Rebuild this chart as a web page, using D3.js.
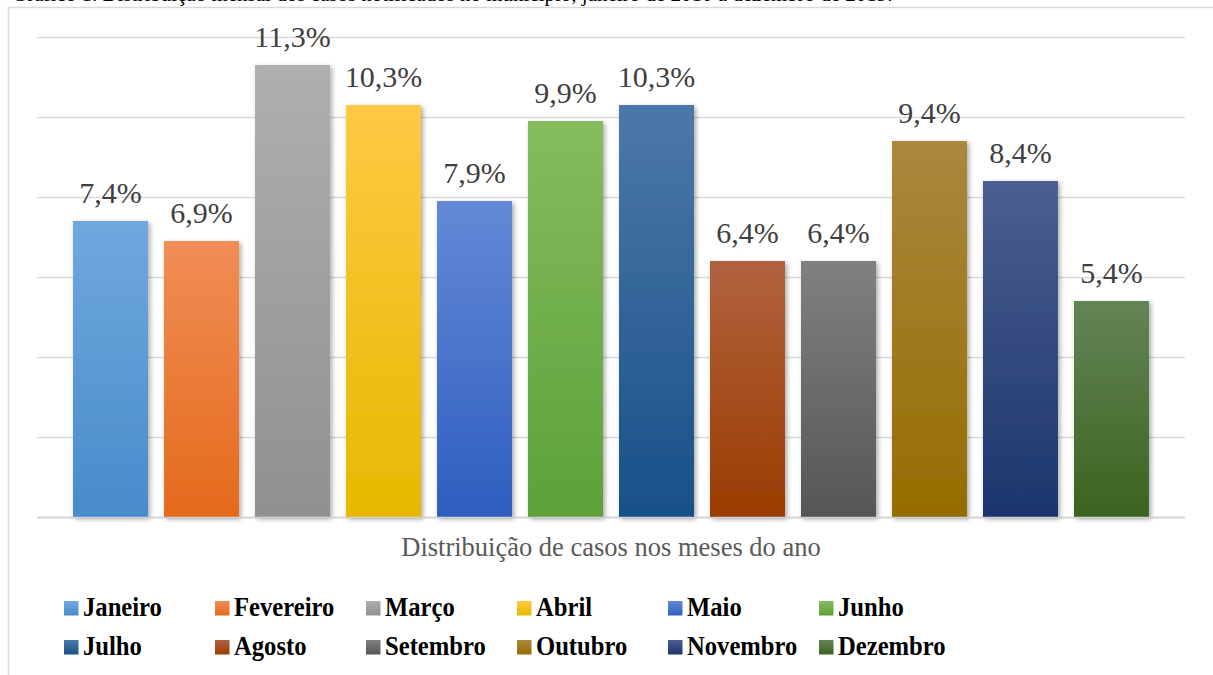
<!DOCTYPE html>
<html>
<head>
<meta charset="utf-8">
<script src="https://cdn.jsdelivr.net/npm/d3@7"></script>
<style>
  html, body { margin: 0; padding: 0; background: #ffffff; overflow: hidden; }
  svg { display: block; }
  .serif { font-family: 'Liberation Serif', 'Times New Roman', serif; }
</style>
</head>
<body>
<svg id="chart" width="1213" height="675"></svg>
<script>
const months = ["Janeiro","Fevereiro","Março","Abril","Maio","Junho","Julho","Agosto","Setembro","Outubro","Novembro","Dezembro"];
const values = [7.4, 6.9, 11.3, 10.3, 7.9, 9.9, 10.3, 6.4, 6.4, 9.4, 8.4, 5.4];
const labels = ["7,4%","6,9%","11,3%","10,3%","7,9%","9,9%","10,3%","6,4%","6,4%","9,4%","8,4%","5,4%"];
const yTicks = [0, 2, 4, 6, 8, 10, 12];
const colorTop = ["#70a8de","#f18d56","#afafaf","#ffc944","#6389d7","#84bc5e","#4c78a9","#b1623f","#808080","#a9883f","#4b5f90","#648455"];
const colorBottom = ["#478bca","#e46a1c","#909090","#e7b800","#2e5ebf","#5da139","#185088","#9a3c00","#565656","#966c00","#1c356d","#3b6320"];
const axisTitle = "Distribuição de casos nos meses do ano";
const captionText = "Gráfico 1. Distribuição mensal dos casos notificados no município, janeiro de 2010 a dezembro de 2019.";

const svg = d3.select("#chart");
const defs = svg.append("defs");

const shadow = defs.append("filter").attr("id", "shadow")
  .attr("x", "-20%").attr("y", "-10%").attr("width", "140%").attr("height", "125%");
shadow.append("feDropShadow").attr("dx", 2).attr("dy", 2)
  .attr("stdDeviation", 2.5).attr("flood-color", "#000").attr("flood-opacity", 0.35);

months.forEach((m, i) => {
  const g = defs.append("linearGradient").attr("id", "grad" + i)
    .attr("x1", 0).attr("y1", 0).attr("x2", 0).attr("y2", 1);
  g.append("stop").attr("offset", "0%").attr("stop-color", colorTop[i]);
  g.append("stop").attr("offset", "100%").attr("stop-color", colorBottom[i]);
});

// caption (clipped at top, as in the reference)
svg.append("text")
  .attr("class", "serif")
  .attr("x", 12).attr("y", 0.5)
  .attr("font-size", 21).attr("fill", "#000")
  .text(captionText);

// frame
svg.append("rect")
  .attr("x", 8.5).attr("y", 7.5).attr("width", 1400).attr("height", 800)
  .attr("fill", "#ffffff").attr("stroke", "#d9d9d9").attr("stroke-width", 1.5);

const plotLeft = 37, plotRight = 1185, plotTop = 37, plotBottom = 517;

const x = d3.scaleBand().domain(months).range([plotLeft, plotRight])
  .paddingInner(0.176).paddingOuter(0.396);
const y = d3.scaleLinear().domain([0, 12]).range([plotBottom, plotTop]);

// gridlines
svg.append("g")
  .attr("transform", `translate(${plotLeft},0)`)
  .call(d3.axisLeft(y).tickValues(yTicks).tickSize(-(plotRight - plotLeft)).tickFormat(""))
  .call(g => g.select(".domain").remove())
  .call(g => g.selectAll(".tick line").attr("stroke", "#d9d9d9").attr("stroke-width", 1.5));

// bars
svg.append("g").selectAll("rect")
  .data(values)
  .join("rect")
  .attr("x", (d, i) => x(months[i]))
  .attr("y", d => y(d))
  .attr("width", x.bandwidth())
  .attr("height", d => y(0) - y(d))
  .attr("fill", (d, i) => `url(#grad${i})`)
  .attr("filter", "url(#shadow)");

// baseline
svg.append("line")
  .attr("x1", plotLeft).attr("x2", plotRight)
  .attr("y1", y(0) + 0.5).attr("y2", y(0) + 0.5)
  .attr("stroke", "#d0d0d0").attr("stroke-width", 1.5);

// data labels
svg.append("g").selectAll("text")
  .data(values)
  .join("text")
  .attr("class", "serif")
  .attr("x", (d, i) => x(months[i]) + x.bandwidth() / 2)
  .attr("y", d => y(d) - 18)
  .attr("text-anchor", "middle")
  .attr("font-size", 30)
  .attr("fill", "#404040")
  .text((d, i) => labels[i]);

// axis title
svg.append("text")
  .attr("class", "serif")
  .attr("x", (plotLeft + plotRight) / 2).attr("y", 556)
  .attr("text-anchor", "middle")
  .attr("font-size", 26.5)
  .attr("fill", "#595959")
  .text(axisTitle);

// legend
const legendX0 = 64, legendStep = 151, rowY = [601, 640];
const legend = svg.append("g");
months.forEach((m, i) => {
  const col = i % 6, row = Math.floor(i / 6);
  const lx = legendX0 + col * legendStep, ly = rowY[row];
  legend.append("rect")
    .attr("x", lx).attr("y", ly).attr("width", 14.5).attr("height", 14.5)
    .attr("fill", `url(#grad${i})`);
  legend.append("text")
    .attr("class", "serif")
    .attr("transform", `translate(${lx + 19},${ly + 15}) scale(0.88,1)`)
    .attr("font-weight", "bold")
    .attr("font-size", 28)
    .attr("fill", "#000")
    .text(m);
});
</script>
</body>
</html>
